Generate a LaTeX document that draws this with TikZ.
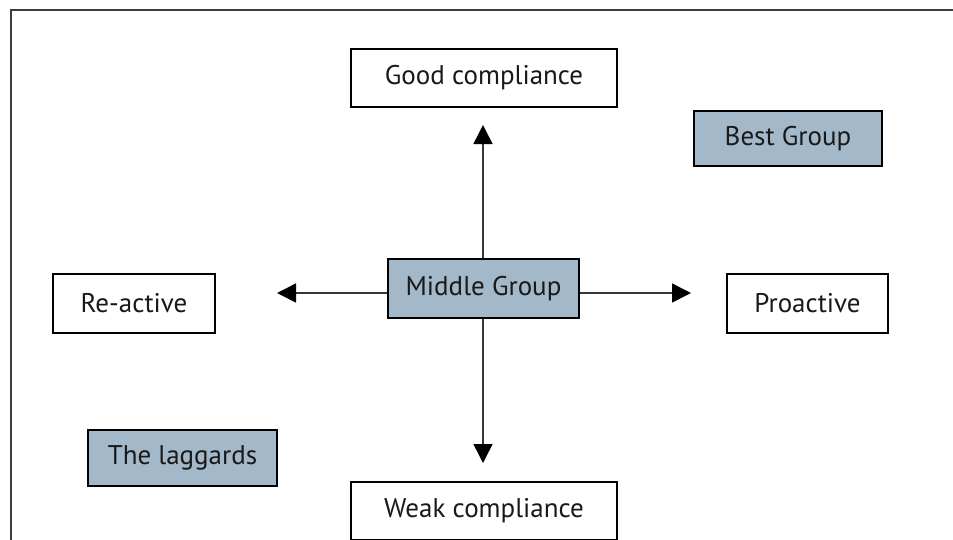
\documentclass[tikz,border=0pt]{standalone}
\usepackage{fontspec}
\setmainfont{PT Sans}
\usetikzlibrary{arrows.meta}
\definecolor{groupfill}{RGB}{163,185,201}
\definecolor{framegray}{RGB}{60,60,60}
\definecolor{linegray}{RGB}{55,55,55}
\definecolor{inktext}{RGB}{25,25,25}
\begin{document}
\begin{tikzpicture}[x=1pt,y=-1pt,
  plainbox/.style={draw=black,line width=1.2pt,fill=white,inner sep=0pt,
    text=inktext,font=\fontsize{27}{30}\selectfont},
  groupbox/.style={plainbox,fill=groupfill,line width=1.8pt},
  axis/.style={draw=linegray,line width=1.5pt,
    -{Triangle[length=19pt,width=19pt,fill=black,color=black]}}]
  \useasboundingbox (0,0) rectangle (953,539);
  \begin{scope}
    \clip (0,0) rectangle (953,539);
    % outer frame (top and left edges)
    \draw[framegray,line width=1.6pt] (11,560) -- (11,10) -- (960,10);
    % nodes
    \node[plainbox,minimum width=266pt,minimum height=58pt] (good) at (484,78) {Good compliance};
    \node[groupbox,minimum width=188pt,minimum height=55pt] (best) at (788,138.5) {Best Group};
    \node[groupbox,minimum width=191pt,minimum height=59pt] (mid) at (483.5,288.5) {Middle Group};
    \node[plainbox,minimum width=162pt,minimum height=59pt] (react) at (134,303.5) {Re-active};
    \node[plainbox,minimum width=161pt,minimum height=59pt] (proact) at (807.5,303.5) {Proactive};
    \node[groupbox,minimum width=189pt,minimum height=56pt] (lag) at (182.5,458) {The laggards};
    \node[plainbox,minimum width=266pt,minimum height=58pt] (weak) at (484,511) {Weak compliance};
    % arrow ends
    \coordinate (upend) at (483,125);
    \coordinate (downend) at (483,463);
    \coordinate (rightend) at (691,293);
    \coordinate (leftend) at (277,293);
    % axes from the middle group
    \draw[axis] (mid.north -| upend) -- (upend);
    \draw[axis] (mid.south -| downend) -- (downend);
    \draw[axis] (mid.east |- rightend) -- (rightend);
    \draw[axis] (mid.west |- leftend) -- (leftend);
  \end{scope}
\end{tikzpicture}
\end{document}
